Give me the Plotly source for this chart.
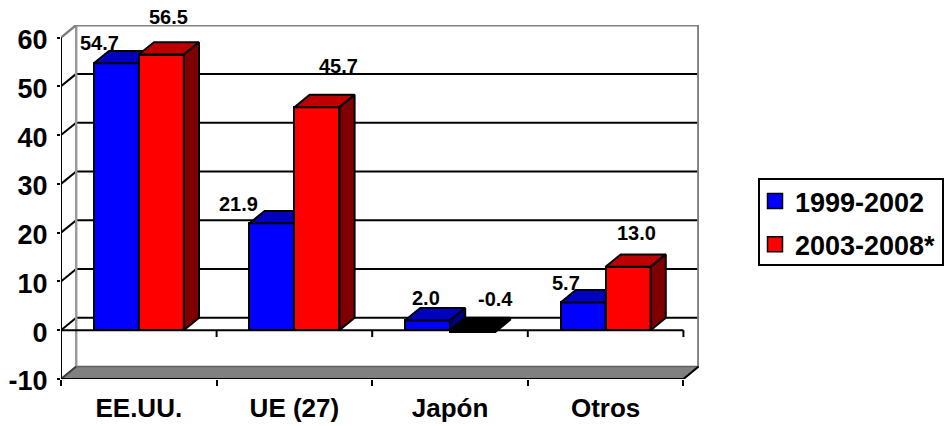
import plotly.graph_objects as go

categories = ["EE.UU.", "UE (27)", "Japón", "Otros"]
series_names = ["1999-2002", "2003-2008*"]
values_1999 = [54.7, 21.9, 2.0, 5.7]
values_2003 = [56.5, 45.7, -0.4, 13.0]
y_ticks = [-10, 0, 10, 20, 30, 40, 50, 60]

# pixel offsets of the hand-placed data labels (dx, dy from top-centre of bar front)
label_offsets_1999 = [(-17, -20), (-33, -19), (-2, -22), (-17, -19)]
label_offsets_2003 = [(7, -38), (22, -41), (23, -31), (8, -34)]

W, H = 944, 426
L, R, T, B = 61, 699, 25, 379
px_x = 155.6
px_y = 4.88
dx = 15.2 / px_x
dy = 12.4 / px_y
bw = 45 / px_x
x_max = (R - L) / px_x
y_max = (330.3 - T) / px_y
y_min, y_top = -10, 60
n = len(categories)

BLACK, GREY = "#000000", "#808080"


def line(x0, y0, x1, y1, color=BLACK, width=2):
    return dict(type="line", xref="x", yref="y", x0=x0, y0=y0, x1=x1, y1=y1,
                layer="below", line=dict(color=color, width=width))


def paper_x(px):
    return (px - L) / (R - L)


def paper_y(px):
    return 1 - (px - T) / (B - T)


shapes = []
# floor slab
shapes.append(dict(type="path", xref="x", yref="y", layer="below",
                   path=f"M 0 {y_min} L {dx} {y_min+dy} L {n+dx} {y_min+dy} L {n} {y_min} Z",
                   fillcolor=GREY, line=dict(color="#606060", width=1.5)))
# back-wall grid and left-wall diagonals
for t in y_ticks[1:-1]:
    shapes.append(line(dx, t + dy, n + dx, t + dy))
    shapes.append(line(0, t, dx, t + dy))
# wall outline
shapes.append(line(dx, y_min + dy, dx, y_top + dy, "#999999", 2.5))
shapes.append(line(dx, y_top + dy, n + dx, y_top + dy, GREY, 3))
shapes.append(line(n + dx, y_min + dy, n + dx, y_top + dy, GREY, 3))
shapes.append(line(0, y_top, dx, y_top + dy, GREY, 2.5))
shapes.append(line(0, y_min, dx, y_min + dy, "#404040", 2))
shapes.append(line(n, y_min, n + dx, y_min + dy, BLACK, 2))
# front axes
shapes.append(line(0, y_min, 0, y_top))
shapes.append(line(0, y_min, n, y_min))
shapes.append(line(0, 0, n, 0))
for i in range(n + 1):
    shapes.append(line(i, 0, i, -1.4))
# legend frame
shapes.append(dict(type="rect", xref="paper", yref="paper", layer="below",
                   x0=paper_x(759), x1=paper_x(943), y0=paper_y(265), y1=paper_y(179),
                   fillcolor="white", line=dict(color=BLACK, width=2)))

fig = go.Figure()


def add_series(values, offset, top_col, side_col, front_col, xa, ya):
    xs = [i + 0.5 + offset * bw + bw / 2 for i in range(n)]
    fig.add_trace(go.Bar(x=xs, y=values, width=bw, xaxis=xa, yaxis=ya, showlegend=False,
                         marker=dict(color=[front_col if v >= 0 else BLACK for v in values],
                                     line=dict(color=BLACK, width=2))))
    for xc, v in zip(xs, values):
        x0, x1 = xc - bw / 2, xc + bw / 2
        top = max(v, 0)
        neg = v < 0
        fig.add_trace(go.Scatter(
            x=[x0, x0 + dx, x1 + dx, x1, x0], y=[top, top + dy, top + dy, top, top],
            mode="lines", fill="toself", fillcolor=BLACK if neg else top_col,
            line=dict(color=BLACK, width=2), xaxis=xa, yaxis=ya,
            showlegend=False, hoverinfo="skip"))
        low = min(v, 0)
        fig.add_trace(go.Scatter(
            x=[x1, x1 + dx, x1 + dx, x1, x1], y=[low, low + dy, top + dy, top, low],
            mode="lines", fill="toself", fillcolor=BLACK if neg else side_col,
            line=dict(color=BLACK, width=2), xaxis=xa, yaxis=ya,
            showlegend=False, hoverinfo="skip"))
    return xs


xs_a = add_series(values_1999, -1, "#0000BF", "#00007F", "#0000FF", "x", "y")
xs_b = add_series(values_2003, 0, "#BF0000", "#7F0000", "#FF0000", "x2", "y2")

# legend entries
for name, col in zip(series_names, ["#0000FF", "#FF0000"]):
    fig.add_trace(go.Scatter(x=[None], y=[None], mode="markers", name=name, legendgroup=name,
                             marker=dict(symbol="square", size=15, color=col,
                                         line=dict(color=BLACK, width=1.5))))

annotations = []
for xs, vals, offs in [(xs_a, values_1999, label_offsets_1999), (xs_b, values_2003, label_offsets_2003)]:
    for xc, v, (ox, oy) in zip(xs, vals, offs):
        annotations.append(dict(x=xc, y=max(v, 0), xref="x", yref="y", text=f"{v:.1f}",
                                showarrow=False, xshift=ox, yshift=-oy, xanchor="center", yanchor="middle",
                                font=dict(family="Liberation Sans", size=20, weight=700, color=BLACK)))

tick_font = dict(family="Liberation Sans", size=26, weight=700, color=BLACK)
fig.update_layout(
    width=W, height=H,
    margin=dict(l=L, r=W - R, t=T, b=H - B, autoexpand=False),
    paper_bgcolor="white", plot_bgcolor="white",
    bargap=0, barmode="overlay",
    shapes=shapes, annotations=annotations,
    showlegend=True,
    legend=dict(x=paper_x(755), y=paper_y(177), xanchor="left", yanchor="top",
                font=dict(family="Liberation Sans", size=27, weight=700, color=BLACK),
                bgcolor="rgba(0,0,0,0)", borderwidth=0,
                tracegroupgap=5, itemsizing="trace", traceorder="grouped"),
    xaxis=dict(range=[0, x_max], tickmode="array", tickvals=[i + 0.5 for i in range(n)],
               ticktext=categories, ticks="", showgrid=False, zeroline=False, showline=False,
               tickfont=tick_font, ticklabelstandoff=11,
               minor=dict(tickmode="array", tickvals=list(range(n + 1)), ticks="outside", ticklen=6,
                          tickwidth=2, tickcolor=BLACK, showgrid=False)),
    yaxis=dict(range=[y_min, y_max], tickmode="array", tickvals=y_ticks,
               ticktext=[str(t) for t in y_ticks], ticks="outside", ticklen=3, tickwidth=2,
               tickcolor=BLACK, showgrid=False, zeroline=False, showline=False,
               tickfont=dict(family="Liberation Sans", size=27, weight=700, color=BLACK),
               ticklabelstandoff=4, ticklabelshift=2),
    xaxis2=dict(range=[0, x_max], overlaying="x", visible=False),
    yaxis2=dict(range=[y_min, y_max], overlaying="y", visible=False),
)
fig.write_html("out.html", config={"displayModeBar": False},
               post_script="document.body.style.margin='0';")
